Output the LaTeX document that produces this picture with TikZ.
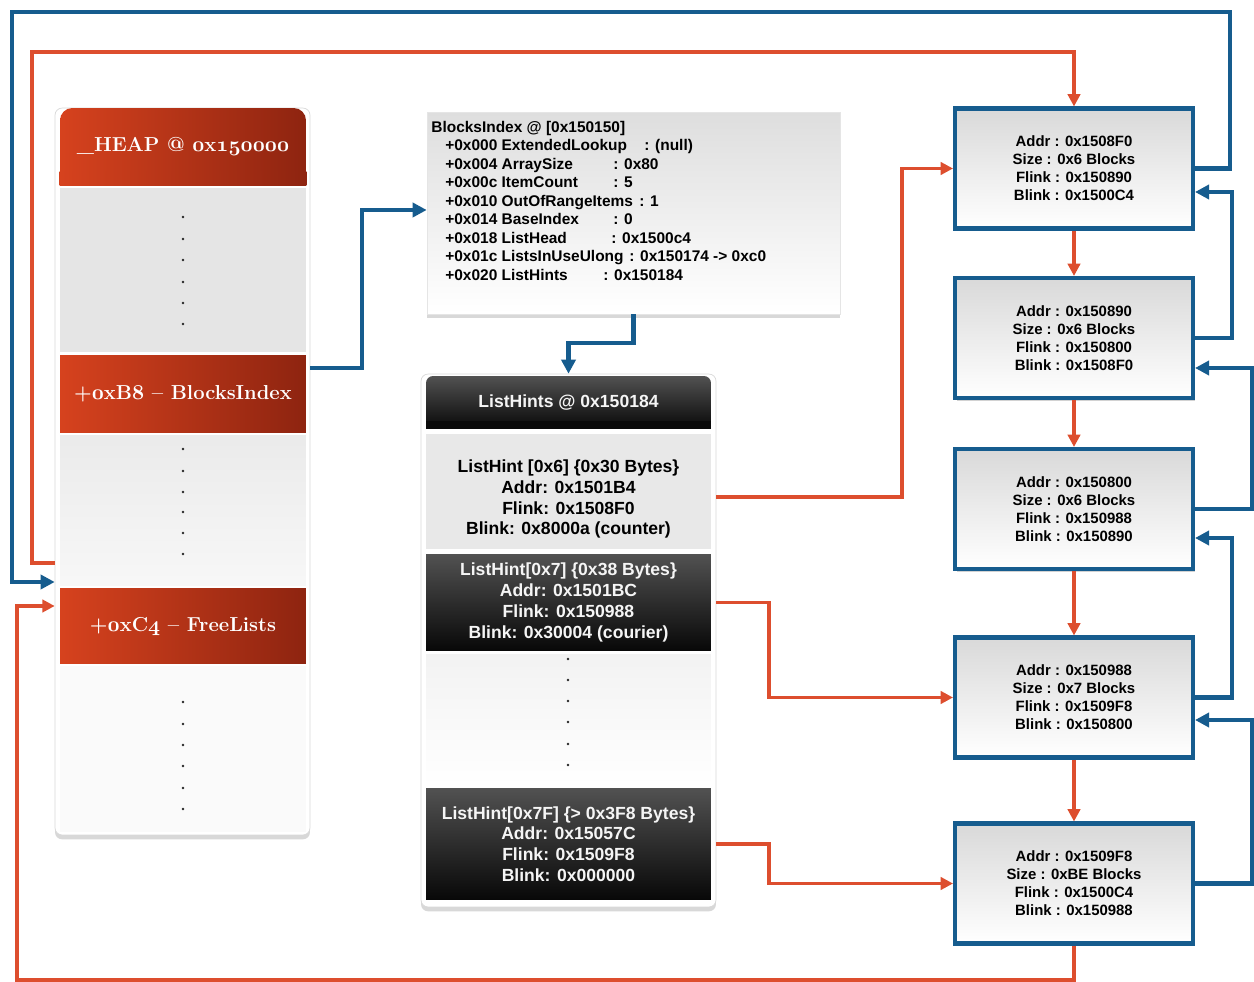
\documentclass[tikz,border=0pt]{standalone}
\usepackage{fontspec}
\setsansfont{Liberation Sans}
\usetikzlibrary{arrows.meta,shadows}

\definecolor{ptrblue}{RGB}{22,92,142}
\definecolor{ptrorange}{RGB}{221,78,46}
\definecolor{hdred}{RGB}{214,66,30}
\definecolor{hddark}{RGB}{142,36,16}

% old-style figures for the heap headings
\newcommand\osn[1]{{\usefont{OML}{cmm}{b}{it}#1}}
% one field of the BlocksIndex dump
\newcommand\fld[3]{\hspace*{0.28cm}\makebox[#1][l]{#2}: #3}

\begin{document}
\begin{tikzpicture}[
  x=0.02cm,y=-0.02cm,
  panel/.style={fill=white,draw=black!15,line width=0.4pt,rounded corners=4pt,
                drop shadow={shadow xshift=0pt,shadow yshift=-2.5pt,opacity=0.3}},
  heaphead/.style={left color=hdred,right color=hddark,text=white,
                   minimum width=4.92cm,
                   font=\rmfamily\bfseries\fontsize{11.5}{13}\selectfont},
  heapgap/.style={minimum width=4.92cm},
  blktext/.style={align=left,inner sep=0pt,
                  font=\sffamily\bfseries\fontsize{8.8}{10.5}\selectfont},
  lhsect/.style={minimum width=5.7cm,align=center,
                 font=\sffamily\bfseries\fontsize{10}{11.8}\selectfont},
  lhdark/.style={lhsect,top color=black!68,bottom color=black!97,text=black!4},
  lhlight/.style={lhsect,fill=black!9,text=black},
  chunk/.style={draw=ptrblue,line width=2.3pt,top color=black!15,bottom color=white,
                minimum width=4.76cm,minimum height=2.4cm,align=center,
                font=\sffamily\bfseries\fontsize{8.5}{10.3}\selectfont,
                drop shadow={shadow xshift=1pt,shadow yshift=-1.5pt,opacity=0.35}},
  bflow/.style={draw=ptrblue,line width=2.3pt,-{Triangle[length=8pt,width=8pt]}},
  oflow/.style={draw=ptrorange,line width=1.8pt,-{Triangle[length=7pt,width=7pt]}}
]
  \useasboundingbox[fill=white] (0,0) rectangle (1254,982);

  % _HEAP column
  \node[panel,minimum width=5.1cm,minimum height=14.54cm] (heap) at (182.5,471.5) {};
  \node[heaphead,rounded corners=7pt,minimum height=1.54cm] (heaphd) at (183,146.5)
    {\_HEAP @ \osn{0}x\osn{150000}};
  \shade[left color=hdred,right color=hddark]
    (heaphd.south west) rectangle ([yshift=8pt]heaphd.south east);
  \node[heapgap,fill=black!10,minimum height=3.28cm] (heapgap1) at (183,270) {};
  \node[heaphead,minimum height=1.56cm] (blkidx) at (183,394)
    {+\osn{0}xB\osn{8} – BlocksIndex};
  \node[heapgap,top color=black!8,bottom color=black!3,minimum height=3.02cm]
    (heapgap2) at (183,510.5) {};
  \node[heaphead,minimum height=1.52cm] (freelst) at (183,626)
    {+\osn{0}xC\osn{4} – FreeLists};
  \node[heapgap,fill=black!2,minimum height=3.32cm] (heapgap3) at (183,749) {};
  \foreach \y in {217,239,260,282,303,324,449,471,492,512,533,554,702,724,745,766,788,809}
    \fill[black!85] (183,\y) circle (0.8pt);

  % BlocksIndex dump
  \node[fill=white,draw=black!10,top color=black!13,bottom color=white,
        minimum width=8.26cm,minimum height=4.04cm,
        drop shadow={shadow xshift=0pt,shadow yshift=-2.5pt,opacity=0.3}]
    (blkbox) at (633.5,213) {};
  \node[blktext,anchor=north west] (blktxt) at (431,121)
    {BlocksIndex @ [0x150150]\\
     \fld{3.98cm}{+0x000 ExtendedLookup}{(null)}\\
     \fld{3.36cm}{+0x004 ArraySize}{0x80}\\
     \fld{3.36cm}{+0x00c ItemCount}{5}\\
     \fld{3.88cm}{+0x010 OutOfRangeItems}{1}\\
     \fld{3.36cm}{+0x014 BaseIndex}{0}\\
     \fld{3.32cm}{+0x018 ListHead}{0x1500c4}\\
     \fld{3.68cm}{+0x01c ListsInUseUlong}{0x150174 -> 0xc0}\\
     \fld{3.16cm}{+0x020 ListHints}{0x150184}};

  % ListHints array
  \node[panel,minimum width=5.9cm,minimum height=10.66cm] (lhpanel) at (568.5,640.5) {};
  \node[lhdark,rounded corners=4pt,minimum height=1.06cm] (lhhd) at (568.5,402.5)
    {ListHints @ 0x150184};
  \fill[black!96] (lhhd.south west) rectangle ([yshift=4.5pt]lhhd.south east);
  \node[lhlight,minimum height=2.3cm] (lh6) at (568.5,491.5)
    {\rule{0pt}{16pt}ListHint [0x6] \{0x30 Bytes\}\\Addr: 0x1501B4\\Flink: 0x1508F0\\Blink: 0x8000a (counter)};
  \node[lhdark,minimum height=1.94cm] (lh7) at (568.5,602.5)
    {ListHint[0x7] \{0x38 Bytes\}\\Addr: 0x1501BC\\Flink: 0x150988\\Blink: 0x30004 (courier)};
  \node[heapgap,minimum width=5.7cm,top color=black!5,bottom color=white,
        minimum height=2.64cm] (lhgap) at (568.5,720) {};
  \foreach \y in {659,680,701,722,744,765}
    \fill[black!85] (568,\y) circle (0.8pt);
  \node[lhdark,minimum height=2.24cm] (lh7f) at (568.5,844)
    {ListHint[0x7F] \{> 0x3F8 Bytes\}\\Addr: 0x15057C\\Flink: 0x1509F8\\Blink: 0x000000};

  % free chunks
  \node[chunk] (chk1) at (1074,168.5)
    {Addr : 0x1508F0\\Size : 0x6 Blocks\\Flink : 0x150890\\Blink : 0x1500C4};
  \node[chunk] (chk2) at (1074,338)
    {Addr : 0x150890\\Size : 0x6 Blocks\\Flink : 0x150800\\Blink : 0x1508F0};
  \node[chunk] (chk3) at (1074,509)
    {Addr : 0x150800\\Size : 0x6 Blocks\\Flink : 0x150988\\Blink : 0x150890};
  \node[chunk] (chk4) at (1074,697.5)
    {Addr : 0x150988\\Size : 0x7 Blocks\\Flink : 0x1509F8\\Blink : 0x150800};
  \node[chunk] (chk5) at (1074,883.5)
    {Addr : 0x1509F8\\Size : 0xBE Blocks\\Flink : 0x1500C4\\Blink : 0x150988};

  % Flink chain
  \draw[oflow] (heap.west |- 0,563) -| (32,52) -| (chk1.north);
  \foreach \a/\b in {chk1/chk2,chk2/chk3,chk3/chk4,chk4/chk5}
    \draw[oflow] (\a) -- (\b);
  \draw[oflow] (chk5.south) |- (17,980) |- (heap.west |- 0,606);

  % hints into the list
  \draw[oflow] (lhpanel.east |- 0,497) -| (902,168.5) -- (chk1.west);
  \draw[oflow] (lhpanel.east |- lh7) -| (769,697.5) -- (chk4.west);
  \draw[oflow] (lhpanel.east |- lh7f) -| (769,883.5) -- (chk5.west);

  % Blink chain
  \draw[bflow] (chk1.east) -| (1230,12) -| (12,582) -- (heap.west |- 0,582);
  \draw[bflow] (chk2.east) -| (1232,192) -- (chk1.east |- 0,192);
  \draw[bflow] (chk3.east) -| (1252,368) -- (chk2.east |- 0,368);
  \draw[bflow] (chk4.east) -| (1232,538) -- (chk3.east |- 0,538);
  \draw[bflow] (chk5.east) -| (1252,720) -- (chk4.east |- 0,720);

  % BlocksIndex pointers
  \draw[bflow] (heap.east |- 0,368) -| (362,210) -- (blkbox.west |- 0,210);
  \draw[bflow] (blkbox.south) |- (568.5,343) -- (lhpanel.north);
\end{tikzpicture}
\end{document}
